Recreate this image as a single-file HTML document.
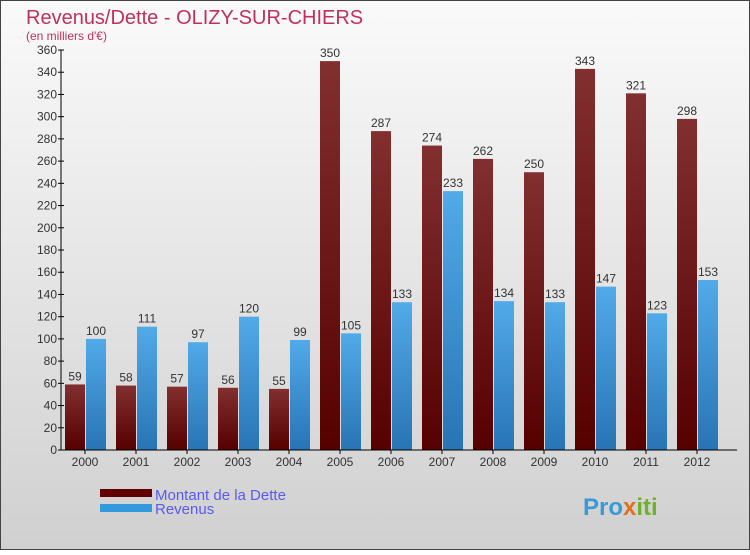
<!DOCTYPE html>
<html><head><meta charset="utf-8"><style>
body{margin:0;width:750px;height:550px;overflow:hidden;font-family:"Liberation Sans",sans-serif}
</style></head><body>
<svg id="c" width="750" height="550" xmlns="http://www.w3.org/2000/svg">
<defs>
<linearGradient id="bg" x1="0" y1="0" x2="0" y2="1"><stop offset="0" stop-color="#fafafa"/><stop offset="1" stop-color="#d0d0d0"/></linearGradient>
<linearGradient id="gd" x1="0" y1="0" x2="0" y2="1"><stop offset="0" stop-color="#822f30"/><stop offset="1" stop-color="#560000"/></linearGradient>
<linearGradient id="gr" x1="0" y1="0" x2="0" y2="1"><stop offset="0" stop-color="#52aae8"/><stop offset="1" stop-color="#2874b4"/></linearGradient>
</defs>
<rect x="0.5" y="0.5" width="749" height="549" fill="url(#bg)" stroke="#444"/>
<text x="26" y="24" font-size="20" fill="#c0305a">Revenus/Dette - OLIZY-SUR-CHIERS</text>
<text x="26" y="40" font-size="12" fill="#c0305a">(en milliers d'€)</text>
<g id="plot"></g>
<rect x="100" y="489" width="52" height="8" fill="#600000"/>
<text x="155" y="500" font-size="15" fill="#5a5aee">Montant de la Dette</text>
<rect x="100" y="504" width="52" height="8" fill="#3399dd"/>
<text x="155" y="514" font-size="15" fill="#5a5aee">Revenus</text>
<text x="583" y="515" font-size="24" font-weight="bold" fill="#3a9ad8">Pro<tspan fill="#e07020">x</tspan><tspan fill="#70b030">iti</tspan></text>
</svg>
<script>
const years=["2000","2001","2002","2003","2004","2005","2006","2007","2008","2009","2010","2011","2012"];
const dette=[59,58,57,56,55,350,287,274,262,250,343,321,298];
const revenus=[100,111,97,120,99,105,133,233,134,133,147,123,153];
const ticks=[0,20,40,60,80,100,120,140,160,180,200,220,240,260,280,300,320,340,360];
const NS="http://www.w3.org/2000/svg";
const g=document.getElementById('plot');
const y0=450,yTop=50,vmax=360,xL=61,step=51,first=85;
const ys=v=>y0-(v/vmax)*(y0-yTop);
const xc=i=>first+i*step;
function mk(t,a){const e=document.createElementNS(NS,t);for(const k in a)e.setAttribute(k,a[k]);g.appendChild(e);return e;}
ticks.forEach(t=>{
 const l=mk('line',{x1:xL-3,x2:xL+3,y1:ys(t),y2:ys(t),stroke:'#000'});
 
 
 const tx=mk('text',{x:xL-4,y:ys(t)+4,'font-size':12,'text-anchor':'end',fill:'#333'});
 tx.textContent=t;
 
 
});
years.forEach((y,i)=>{
 const x=xc(i);
 const b1=mk('rect',{x:x-20,y:ys(dette[i]),width:20,height:y0-ys(dette[i]),fill:'url(#gd)'});
 
 
 const b2=mk('rect',{x:x+1,y:ys(revenus[i]),width:20,height:y0-ys(revenus[i]),fill:'url(#gr)'});
 
 
 const t1=mk('text',{x:x-10,y:ys(dette[i])-4,'font-size':12,'text-anchor':'middle',fill:'#333'});
 t1.textContent=dette[i];
 
 
 const t2=mk('text',{x:x+11,y:ys(revenus[i])-4,'font-size':12,'text-anchor':'middle',fill:'#333'});
 t2.textContent=revenus[i];
 
 
 const tk=mk('line',{x1:x,x2:x,y1:y0,y2:y0+4,stroke:'#000'});
 
 
 const xl=mk('text',{x:x,y:466,'font-size':12,'text-anchor':'middle',fill:'#333'});
 xl.textContent=y;
 
 
});
const ax=mk('line',{x1:xL,x2:xL,y1:yTop,y2:y0,stroke:'#000'});


const bx=mk('line',{x1:xL,x2:737,y1:y0,y2:y0,stroke:'#000'});


</script>
</body></html>
